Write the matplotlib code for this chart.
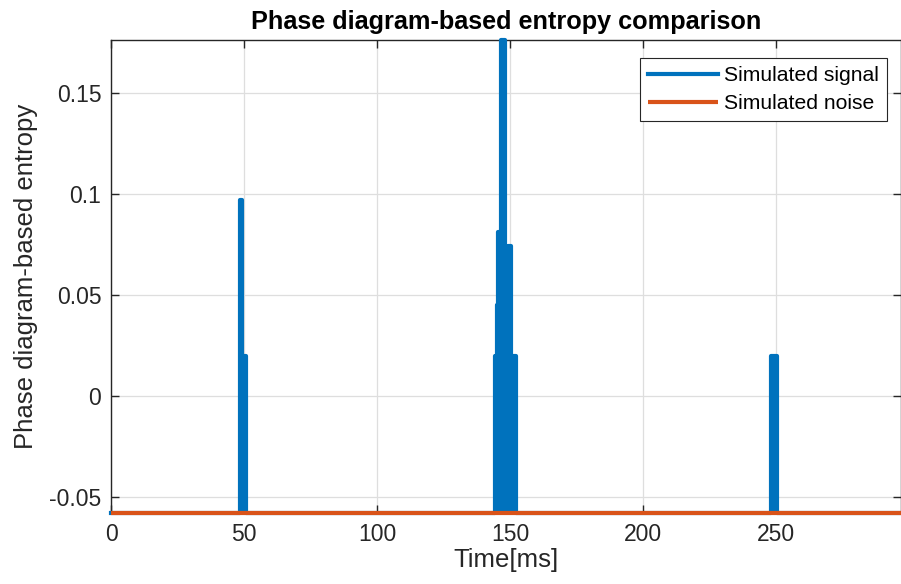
import matplotlib
matplotlib.use("Agg")
import matplotlib.pyplot as plt

plt.rcParams['font.family'] = ['Liberation Sans', 'DejaVu Sans']

BASE = -0.0579
PEAK = 0.1762

# simulated signal: outline of the entropy bursts (time in ms), baseline elsewhere
sig_t = [0,
         48.5, 48.5, 49.3, 49.3, 50.9, 50.9,
         144.2, 144.2, 145.0, 145.0, 145.6, 145.6, 146.8, 146.8, 148.2, 148.2, 149.3, 149.3, 150.5, 150.5,
         152.1, 152.1,
         248.3, 248.3, 250.2, 250.2,
         297]
sig_v = [BASE,
         BASE, 0.097, 0.097, 0.020, 0.020, BASE,
         BASE, 0.020, 0.020, 0.045, 0.045, 0.081, 0.081, PEAK, PEAK, 0.060, 0.060, 0.074, 0.074, 0.020,
         0.020, BASE,
         BASE, 0.020, 0.020, BASE,
         BASE]

# simulated noise stays at the baseline
noise_t = [0, 297]
noise_v = [BASE, BASE]

x_ticks = [0, 50, 100, 150, 200, 250]
y_ticks = [-0.05, 0, 0.05, 0.1, 0.15]
y_tick_labels = ['-0.05', '0', '0.05', '0.1', '0.15']

BLUE = '#0072BD'
ORANGE = '#D95319'
AXCOL = '#262626'

fig = plt.figure(figsize=(9.01, 5.84), dpi=100)
ax = fig.add_axes([111 / 901, 1 - 513 / 584, 790 / 901, 473 / 584])

ax.fill_between(sig_t, sig_v, BASE, color=BLUE, lw=0, zorder=3)
ax.plot(sig_t, sig_v, color=BLUE, lw=3, label='Simulated signal', clip_on=False, zorder=3)
ax.plot(noise_t, noise_v, color=ORANGE, lw=3, label='Simulated noise', clip_on=False, zorder=4,
        solid_capstyle='butt')

ax.set_xlim(0, 297)
ax.set_ylim(BASE, PEAK)
ax.set_xticks(x_ticks)
ax.set_yticks(y_ticks)
ax.set_yticklabels(y_tick_labels)

ax.grid(True, color='#dedede', lw=0.9)
ax.set_axisbelow(True)
ax.tick_params(direction='in', length=6, width=1, labelsize=16.5, colors=AXCOL, pad=7,
               top=True, right=True)
for s in ax.spines.values():
    s.set_color(AXCOL)
    s.set_linewidth(1)

ax.set_title('Phase diagram-based entropy comparison', fontsize=18.2, fontweight='bold', pad=8)
ax.set_xlabel('Time[ms]', fontsize=18.5, color=AXCOL, labelpad=2)
ax.set_ylabel('Phase diagram-based entropy', fontsize=18.5, color=AXCOL, labelpad=8)

leg = ax.legend(loc='upper right', bbox_to_anchor=(887 / 901, 1 - 58 / 584), bbox_transform=fig.transFigure,
                fontsize=15.2, fancybox=False, framealpha=1, edgecolor=AXCOL, handlelength=3.3,
                borderpad=0.38, labelspacing=0.44, handletextpad=0.3, borderaxespad=0)
leg.get_frame().set_linewidth(0.8)

fig.savefig('out.png', dpi=100)
